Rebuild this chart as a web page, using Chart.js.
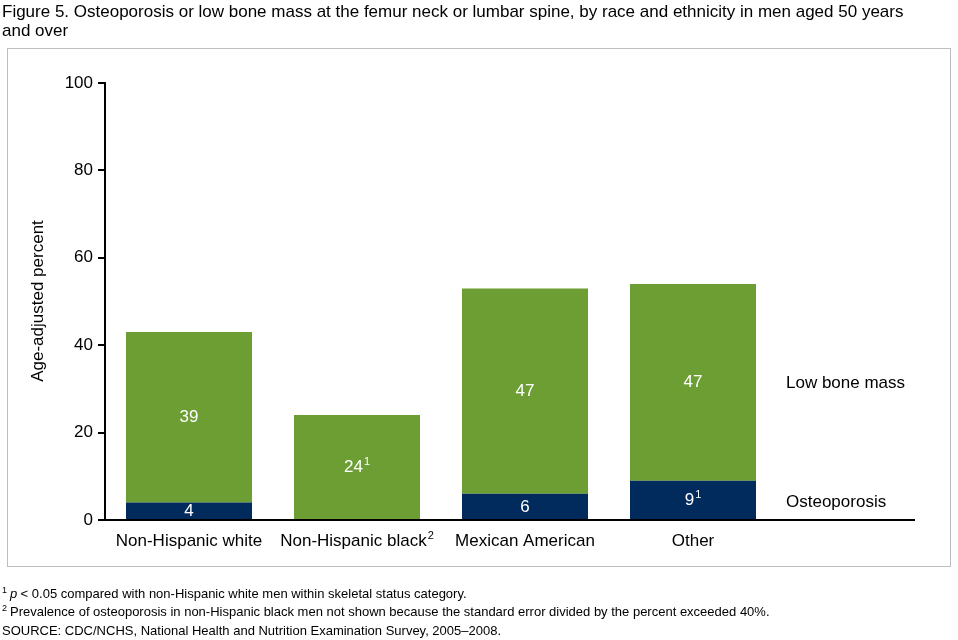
<!DOCTYPE html>
<html><head><meta charset="utf-8">
<script src="https://cdn.jsdelivr.net/npm/chart.js@4"></script>
<style>html,body{margin:0;padding:0;background:#fff}#w{width:958px;height:640px}</style>
</head><body><div id="w"><canvas id="c"></canvas></div>
<script>
const categories = ["Non-Hispanic white", "Non-Hispanic black", "Mexican American", "Other", ""];
const categorySup = ["", "2", "", "", ""];
const osteoValues = [4, null, 6, 9, null];
const osteoLabels = ["4", "", "6", "9", ""];
const osteoSup = ["", "", "", "1", ""];
const lowValues = [39, 24, 47, 45, null];
const lowLabels = ["39", "24", "47", "47", ""];
const lowSup = ["", "1", "", "", ""];
const yTicks = [0, 20, 40, 60, 80, 100];
const seriesNames = ["Osteoporosis", "Low bone mass"];

const F = "'Liberation Sans', Arial, sans-serif";
function supText(ctx, x, y, main, sup, size, align) {
  ctx.font = size + "px " + F;
  const mw = ctx.measureText(main).width;
  ctx.font = Math.round(size * 0.62) + "px " + F;
  const sw = sup ? ctx.measureText(sup).width + 1 : 0;
  let sx = align === "left" ? x : x - (mw + sw) / 2;
  ctx.textAlign = "left"; ctx.textBaseline = "middle";
  ctx.font = size + "px " + F; ctx.fillText(main, sx, y);
  if (sup) { ctx.font = Math.round(size * 0.62) + "px " + F; ctx.fillText(sup, sx + mw + 1, y - size * 0.3); }
}
const deco = {
  id: "deco",
  beforeDraw(chart) {
    const ctx = chart.ctx; ctx.save();
    ctx.strokeStyle = "#bdbdbd"; ctx.lineWidth = 1; ctx.strokeRect(7.5, 48.5, 943, 518);
    ctx.fillStyle = "#000"; ctx.font = "17px " + F; ctx.textAlign = "left"; ctx.textBaseline = "alphabetic";
    ctx.fillText("Figure 5. Osteoporosis or low bone mass at the femur neck or lumbar spine, by race and ethnicity in men aged 50 years", 2, 17);
    ctx.fillText("and over", 2, 36);
    ctx.restore();
  },
  afterDraw(chart) {
    const ctx = chart.ctx, x = chart.scales.x, y = chart.scales.y; ctx.save();
    ctx.strokeStyle = "#000"; ctx.lineWidth = 2;
    ctx.beginPath(); ctx.moveTo(x.left, y.getPixelForValue(0)); ctx.lineTo(915, y.getPixelForValue(0)); ctx.stroke();
    ctx.fillStyle = "#000";
    categories.forEach((c, i) => { if (c) supText(ctx, x.getPixelForValue(i), 541, c, categorySup[i], 17); });
    ctx.fillStyle = "#fff";
    categories.forEach((c, i) => {
      const px = x.getPixelForValue(i);
      if (osteoValues[i] != null) supText(ctx, px, y.getPixelForValue(osteoValues[i] / 2), osteoLabels[i], osteoSup[i], 17);
      const b = osteoValues[i] || 0;
      if (lowValues[i] != null) supText(ctx, px, y.getPixelForValue(b + lowValues[i] / 2), lowLabels[i], lowSup[i], 17);
    });
    ctx.fillStyle = "#000";
    supText(ctx, 786, 383, seriesNames[1], "", 17, "left");
    supText(ctx, 786, 502, seriesNames[0], "", 17, "left");
    ctx.translate(38, 301); ctx.rotate(-Math.PI / 2); ctx.font = "17px " + F; ctx.textAlign = "center"; ctx.textBaseline = "middle";
    ctx.fillText("Age-adjusted percent", 0, 0);
    ctx.setTransform(1,0,0,1,0,0); ctx.scale(chart.currentDevicePixelRatio, chart.currentDevicePixelRatio);
    ctx.textAlign = "left"; ctx.textBaseline = "alphabetic";
    ctx.font = "9px " + F; ctx.fillText("1", 2, 593);
    ctx.font = "italic 13px " + F; ctx.fillText("p", 10, 598);
    ctx.font = "13px " + F; ctx.fillText(" < 0.05 compared with non-Hispanic white men within skeletal status category.", 17, 598);
    ctx.font = "9px " + F; ctx.fillText("2", 2, 611);
    ctx.font = "13px " + F; ctx.fillText("Prevalence of osteoporosis in non-Hispanic black men not shown because the standard error divided by the percent exceeded 40%.", 10, 616);
    ctx.fillText("SOURCE: CDC/NCHS, National Health and Nutrition Examination Survey, 2005\u20132008.", 2, 635);
    ctx.restore();
  }
};
new Chart(document.getElementById("c"), {
  type: "bar",
  data: { labels: categories, datasets: [
    { label: seriesNames[0], data: osteoValues, backgroundColor: "#002b5c" },
    { label: seriesNames[1], data: lowValues, backgroundColor: "#6c9e33" }
  ]},
  options: {
    responsive: true, maintainAspectRatio: false, animation: false,
    datasets: { bar: { categoryPercentage: 1, barPercentage: 0.75 } },
    layout: { padding: { top: 83, right: 13, left: 0, bottom: 0 } },
    plugins: { legend: { display: false }, tooltip: { enabled: false } },
    scales: {
      x: { stacked: true, grid: { display: false }, border: { display: false }, ticks: { display: false },
           afterFit(s) { s.height = 120; } },
      y: { stacked: true, min: 0, max: 100, afterFit(s) { s.width = 105; },
           afterBuildTicks(s) { s.ticks = yTicks.map(v => ({ value: v })); },
           grid: { drawOnChartArea: false, tickLength: 7, color: "#000", lineWidth: 2 },
           border: { color: "#000", width: 2 },
           ticks: { color: "#000", font: { family: F, size: 17 }, padding: 5 } }
    }
  },
  plugins: [deco]
});
</script></body></html>
